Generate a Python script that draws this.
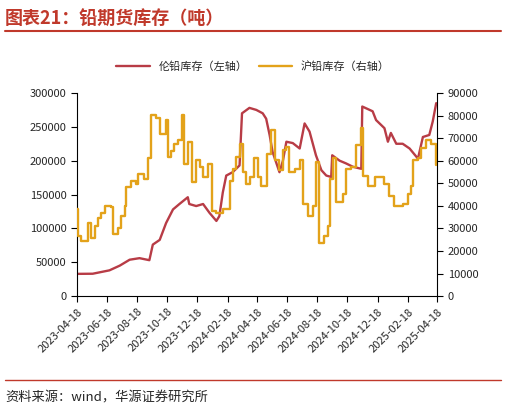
import numpy as np, pandas as pd, seaborn as sns, matplotlib
matplotlib.use("Agg")
import matplotlib.pyplot as plt
import matplotlib.dates as mdates

sns.set_theme(style="white")
plt.rcParams['font.family'] = ['Noto Sans CJK SC', 'DejaVu Sans']

start = pd.Timestamp("2023-04-18")
lme_days = [0,32,66,87,107,127,147,154,168,181,195,208,225,228,242,256,269,283,289,296,303,316,330,335,350,364,377,384,391,397,411,418,425,438,452,462,472,485,496,506,516,518,533,546,560,577,579,600,607,624,631,637,648,661,675,692,702,715,722,729]
lme_vals = [32800,33000,38000,45000,53700,56000,53000,76000,83000,108000,128000,136000,146000,136000,133000,136000,123000,111000,118000,153000,178000,183000,193000,270000,278000,275000,270000,262000,238000,213000,183000,200000,228000,226000,218000,255000,243000,208000,186000,178000,176000,208000,200000,196000,191000,188000,280000,273000,260000,248000,228000,241000,225000,225000,218000,203000,235000,238000,258000,285000]
shfe_days = [0,2,9,22,29,36,43,49,56,70,73,83,90,97,100,110,120,124,137,144,151,161,168,181,185,191,198,205,214,218,225,234,241,249,256,266,274,283,296,310,316,323,330,337,343,352,360,367,374,385,394,401,411,418,425,430,443,452,458,468,479,485,492,502,509,514,519,526,539,545,556,566,577,581,590,604,624,634,644,661,671,678,681,692,698,708,719,729]
shfe_vals = [38500,26600,24300,32500,25800,31000,34800,37000,40000,39500,27300,30300,35500,40000,48200,51200,49700,54200,52000,61000,80300,78800,72000,78000,61600,64500,67600,69100,80300,58700,68400,50400,60100,57200,52700,58700,37800,37000,38500,51200,56400,61600,67600,54900,49700,52700,61000,52700,49000,63100,73600,60100,55700,64600,66100,54900,56400,60100,40700,35500,40000,59400,23600,26600,31000,51900,61000,41500,45200,56400,57200,66900,74300,53400,49000,52700,49700,44500,40000,40700,45200,49000,60100,61000,65400,69100,67600,57900]

lme = pd.DataFrame({"date": start + pd.to_timedelta(lme_days, unit="D"), "v": lme_vals})
shfe = pd.DataFrame({"date": start + pd.to_timedelta(shfe_days, unit="D"), "v": shfe_vals})
red, gold = "#B83C46", "#E3A21A"

fig = plt.figure(figsize=(5.06, 4.17), dpi=100)
ax = fig.add_axes([0.152, 0.29, 0.712, 0.487])
ax2 = ax.twinx()
sns.lineplot(data=lme, x="date", y="v", ax=ax, color=red, lw=1.7, label="伦铅库存（左轴）", legend=False)
sns.lineplot(data=shfe, x="date", y="v", ax=ax2, color=gold, lw=1.7, drawstyle="steps-post", label="沪铅库存（右轴）", legend=False)
ax.set_ylim(0, 300000); ax.set_yticks(range(0, 300001, 50000))
ax2.set_ylim(0, 90000); ax2.set_yticks(range(0, 90001, 10000))
ticks = pd.date_range("2023-04-18", "2025-04-18", freq=pd.DateOffset(months=2))
ax.set_xlim(ticks[0], ticks[-1]); ax.set_xticks(ticks)
ax.xaxis.set_major_formatter(mdates.DateFormatter("%Y-%m-%d"))
for lab in ax.get_xticklabels():
    lab.set_rotation(45); lab.set_ha("right"); lab.set_rotation_mode("anchor")
for a in (ax, ax2):
    a.set_xlabel(""); a.set_ylabel("")
    a.tick_params(labelsize=8, length=4, direction="out", color="black", width=0.8)
    for s in a.spines.values():
        s.set_visible(False)
ax.spines["left"].set_visible(True); ax.spines["bottom"].set_visible(True)
ax2.spines["right"].set_visible(True)
for s in (ax.spines["left"], ax.spines["bottom"], ax2.spines["right"]):
    s.set_color("black"); s.set_linewidth(0.8)
ax.tick_params(axis="x", bottom=True, labelsize=8)
ax.tick_params(axis="y", left=True)
ax2.tick_params(axis="y", right=True)
h1, l1 = ax.get_legend_handles_labels(); h2, l2 = ax2.get_legend_handles_labels()
fig.legend(h1 + h2, l1 + l2, loc="center", bbox_to_anchor=(0.5, 0.84), ncol=2, frameon=False, fontsize=8, handlelength=3, columnspacing=1)

fig.text(0.01, 0.955, "图表21：铅期货库存（吨）", color="#C0392B", fontsize=13, fontweight="bold", va="center")
fig.add_artist(plt.Line2D([0.01, 0.99], [0.925, 0.925], color="#C0392B", lw=1.5))
fig.add_artist(plt.Line2D([0.01, 0.99], [0.088, 0.088], color="#C0392B", lw=1))
fig.text(0.01, 0.045, "资料来源：wind，华源证券研究所", fontsize=9.5, va="center")
fig.savefig("out.png", dpi=100)
